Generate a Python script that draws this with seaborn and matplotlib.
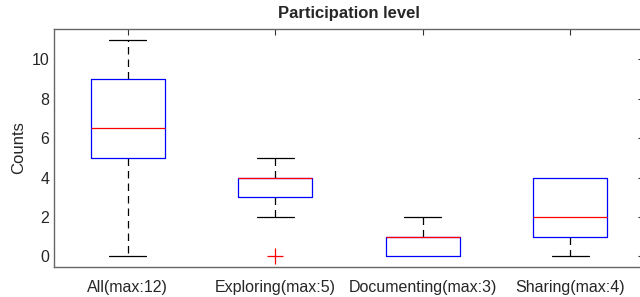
import pandas as pd
import matplotlib
matplotlib.use("Agg")
import matplotlib.pyplot as plt
import seaborn as sns

# category labels and the raw counts behind each box
categories = ["All(max:12)", "Exploring(max:5)", "Documenting(max:3)", "Sharing(max:4)"]
all_counts = [0, 5, 5, 6, 7, 9, 9, 11]
exploring_counts = [0, 2, 3, 3, 4, 4, 4, 4, 5]
documenting_counts = [0, 0, 0, 1, 1, 1, 1, 2]
sharing_counts = [0, 1, 1, 2, 2, 4, 4, 4]
y_ticks = [0, 2, 4, 6, 8, 10]

rows = []
for cat, vals in zip(categories, [all_counts, exploring_counts, documenting_counts, sharing_counts]):
    rows += [(cat, v) for v in vals]
df = pd.DataFrame(rows, columns=["group", "count"])

sns.set_style("white")
plt.rcParams['font.family'] = ['Liberation Sans', 'DejaVu Sans']

fig = plt.figure(figsize=(6.4, 2.97), dpi=100)
ax = fig.add_axes([0.0844, 0.101, 0.922, 0.8014])

sns.boxplot(
    data=df, x="group", y="count", order=categories,
    width=0.5, whis=1.5, fill=False, ax=ax,
    boxprops=dict(color="blue", linewidth=0.9, zorder=5),
    medianprops=dict(color="red", linewidth=0.9, zorder=6),
    whiskerprops=dict(color="black", linewidth=0.9, linestyle=(0, (6, 4)), zorder=3),
    capprops=dict(color="black", linewidth=0.9, zorder=3),
    flierprops=dict(marker="+", markeredgecolor="red", markersize=11,
                    markeredgewidth=0.9),
)

# box edges (x centre, y) so caps sitting on a box edge can be hidden
box_edges = []
for line in ax.lines:
    if line.get_zorder() == 5:
        xd, yd = line.get_xdata(), line.get_ydata()
        c = (min(xd) + max(xd)) / 2
        box_edges += [(round(c, 3), round(min(yd), 3)), (round(c, 3), round(max(yd), 3))]

# caps narrower than the box, as in the original
for line in ax.lines:
    xd, yd = line.get_xdata(), line.get_ydata()
    if len(xd) == 2 and xd[0] != xd[1] and line.get_zorder() == 3:
        c = (xd[0] + xd[1]) / 2
        line.set_xdata([c - 0.125, c + 0.125])
        if (round(c, 3), round(yd[0], 3)) in box_edges:
            line.set_visible(False)

ax.set_xlim(-0.5, 3.5)
ax.set_ylim(-0.55, 11.55)
ax.set_yticks(y_ticks)
ax.set_xlabel("")
ax.set_ylabel("Counts", fontsize=12, labelpad=4)
ax.set_title("Participation level", fontsize=12, fontweight="bold", pad=8)
ax.tick_params(axis="both", direction="in", labelsize=11.5, color="#333333",
               top=True, right=True, length=4, width=0.8)
ax.tick_params(axis="x", pad=9)
for s in ax.spines.values():
    s.set_color("#666666")
    s.set_linewidth(1.0)

fig.savefig("out.png", dpi=100)
